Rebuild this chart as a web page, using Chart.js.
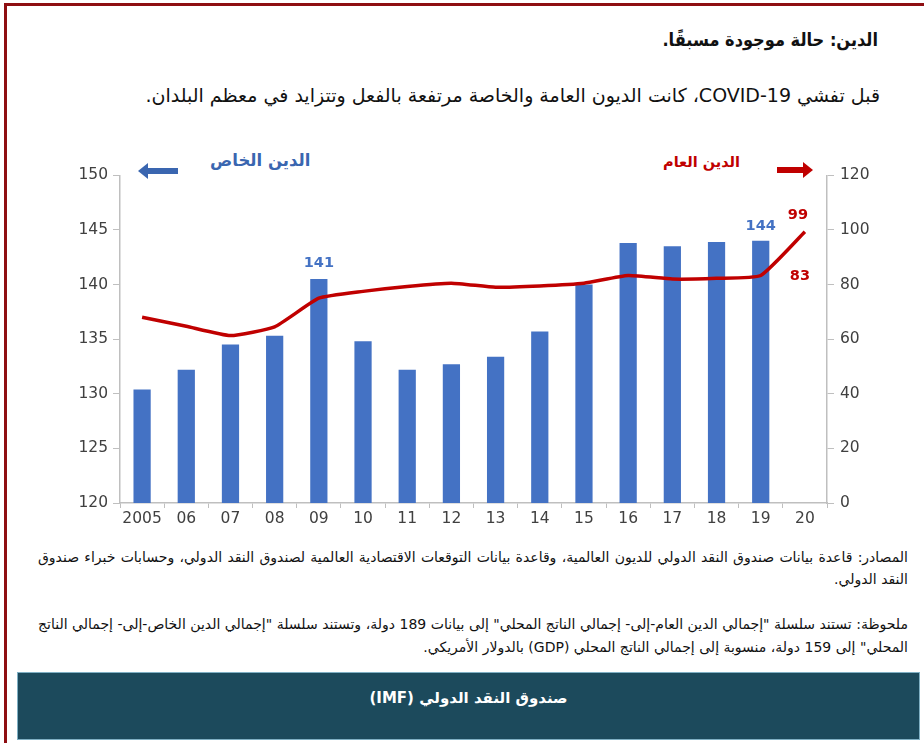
<!DOCTYPE html>
<html lang="ar">
<head>
<meta charset="utf-8">
<script src="https://cdn.jsdelivr.net/npm/chart.js@4"></script>
<style>
  body { margin: 0; width: 924px; height: 743px; background: #fff; position: relative; overflow: hidden; font-family: "DejaVu Sans", sans-serif; }
  .frameTop { position: absolute; left: 4px; top: 3px; width: 920px; height: 3px; background: #8e0e12; }
  .frameLeft { position: absolute; left: 4px; top: 3px; width: 3px; height: 740px; background: #8e0e12; }
  .txt { position: absolute; direction: rtl; color: #111; }
  #title { right: 46px; top: 29px; font-size: 18px; font-weight: bold; font-family: "DejaVu Sans Condensed", "DejaVu Sans", sans-serif; }
  #sub { right: 44px; top: 84px; font-size: 19px; }
  #src { right: 16px; left: 38px; top: 546px; font-size: 14px; line-height: 22px; text-align: justify; }
  #note { right: 16px; left: 38px; top: 613px; font-size: 14px; line-height: 23px; text-align: justify; }
  #box { position: absolute; left: 17px; top: 672px; width: 901px; height: 66px; background: #1c4a5c; border: 1px solid #7fb0c4; color: #fff; text-align: center; font-size: 15px; font-weight: bold; line-height: 50px; direction: rtl; }
  .leg { position: absolute; font-weight: bold; direction: rtl; }
  .arrowL, .arrowR { position: absolute; height: 6px; }
  .arrowL { left: 148px; top: 168px; width: 30px; background: #3a66b0; }
  .arrowL::before { content: ""; position: absolute; left: -10px; top: -5px; border-right: 10px solid #3a66b0; border-top: 8px solid transparent; border-bottom: 8px solid transparent; }
  .arrowR { left: 777px; top: 167px; width: 26px; background: #c00000; }
  .arrowR::after { content: ""; position: absolute; right: -10px; top: -5px; border-left: 10px solid #c00000; border-top: 8px solid transparent; border-bottom: 8px solid transparent; }
  #wrap { position: absolute; left: 60px; top: 160px; width: 820px; height: 370px; }
</style>
</head>
<body>
<div class="frameTop"></div>
<div class="frameLeft"></div>

<div class="txt" id="title">الدين: حالة موجودة مسبقًا.</div>
<div class="txt" id="sub">قبل تفشي COVID-19، كانت الديون العامة والخاصة مرتفعة بالفعل وتتزايد في معظم البلدان.</div>

<div class="arrowL"></div>
<div class="leg" style="left:210px; top:151px; font-size:16.5px; color:#3a66b0;">الدين الخاص</div>
<div class="leg" style="left:663px; top:154px; font-size:14.5px; color:#c00000;">الدين العام</div>
<div class="arrowR"></div>

<div id="wrap"><canvas id="debtChart"></canvas></div>

<div class="txt" id="src">المصادر: قاعدة بيانات صندوق النقد الدولي للديون العالمية، وقاعدة بيانات التوقعات الاقتصادية العالمية لصندوق النقد الدولي، وحسابات خبراء صندوق النقد الدولي.</div>
<div class="txt" id="note">ملحوظة: تستند سلسلة "إجمالي الدين العام-إلى- إجمالي الناتج المحلي" إلى بيانات 189 دولة، وتستند سلسلة "إجمالي الدين الخاص-إلى- إجمالي الناتج المحلي" إلى 159 دولة، منسوبة إلى إجمالي الناتج المحلي (GDP) بالدولار الأمريكي.</div>

<div id="box">صندوق النقد الدولي (IMF)</div>

<script>
// dados
const years = ['2005', '06', '07', '08', '09', '10', '11', '12', '13', '14', '15', '16', '17', '18', '19', '20'];
const privateDebt = [130.4, 132.2, 134.5, 135.3, 140.5, 134.8, 132.2, 132.7, 133.4, 135.7, 140.0, 143.8, 143.5, 143.9, 144.0, null];
const publicDebt = [68, 64.7, 61.3, 64.5, 75, 77.5, 79.3, 80.5, 79, 79.5, 80.5, 83.3, 82, 82.3, 83.3, 99.3];
const leftTicks = [120, 125, 130, 135, 140, 145, 150];
const rightTicks = [0, 20, 40, 60, 80, 100, 120];

// rótulos de valores: [dataset, índice do ponto, índice da posição x, texto, cor, dx, dy]
const valueLabels = [
    [0, 4, 4, '141', '#4472c4', 0, -16],
    [0, 14, 14, '144', '#4472c4', 0, -15],
    [1, 15, 15, '99', '#c00000', -7, -17],
    [1, 14, 15, '83', '#c00000', -5, 1]
];

const labelPlugin = {
    id: 'valueLabels',
    afterDatasetsDraw(chart) {
        const c = chart.ctx;
        c.save();
        c.font = 'bold 14.5px "DejaVu Sans"';
        c.textAlign = 'center';
        c.textBaseline = 'middle';
        valueLabels.forEach(function (l) {
            const x = chart.scales.x.getPixelForValue(l[2]);
            const y = l[0] === 0
                ? chart.scales.y.getPixelForValue(privateDebt[l[1]])
                : chart.scales.y1.getPixelForValue(publicDebt[l[1]]);
            c.fillStyle = l[4];
            c.fillText(l[3], x + l[5], y + l[6]);
        });
        c.restore();
    }
};

const axisColor = '#bfbfbf';
const tickFont = { family: '"DejaVu Sans"', size: 15.5 };

new Chart(document.getElementById('debtChart'), {
    data: {
        labels: years,
        datasets: [
            {
                type: 'line',
                data: publicDebt,
                yAxisID: 'y1',
                borderColor: '#c00000',
                borderWidth: 3.5,
                pointRadius: 0,
                tension: 0.15,
                order: 0
            },
            {
                type: 'bar',
                data: privateDebt,
                yAxisID: 'y',
                backgroundColor: '#4472c4',
                barPercentage: 0.78,
                categoryPercentage: 0.5,
                order: 1
            }
        ]
    },
    options: {
        responsive: true,
        maintainAspectRatio: false,
        animation: false,
        layout: { padding: { top: 13 } },
        plugins: { legend: { display: false }, tooltip: { enabled: false } },
        scales: {
            x: {
                offset: true,
                afterFit(s) { s.height = 27; },
                grid: { display: true, drawOnChartArea: false, offset: true, tickLength: 5, color: axisColor },
                border: { color: axisColor, width: 1.5 },
                ticks: { color: '#404040', font: tickFont, maxRotation: 0, autoSkip: false, padding: 2 }
            },
            y: {
                position: 'left',
                min: 120,
                max: 150,
                afterFit(s) { s.width = 60; },
                afterBuildTicks(s) { s.ticks = leftTicks.map(v => ({ value: v })); },
                grid: { drawOnChartArea: false, tickLength: 7, color: axisColor },
                border: { color: axisColor, width: 1.5 },
                ticks: { color: '#404040', font: tickFont, padding: 5 }
            },
            y1: {
                position: 'right',
                min: 0,
                max: 120,
                afterFit(s) { s.width = 53; },
                afterBuildTicks(s) { s.ticks = rightTicks.map(v => ({ value: v })); },
                grid: { drawOnChartArea: false, tickLength: 7, color: axisColor },
                border: { color: axisColor, width: 1.5 },
                ticks: { color: '#404040', font: tickFont, padding: 6 }
            }
        }
    },
    plugins: [labelPlugin]
});
</script>
</body>
</html>
